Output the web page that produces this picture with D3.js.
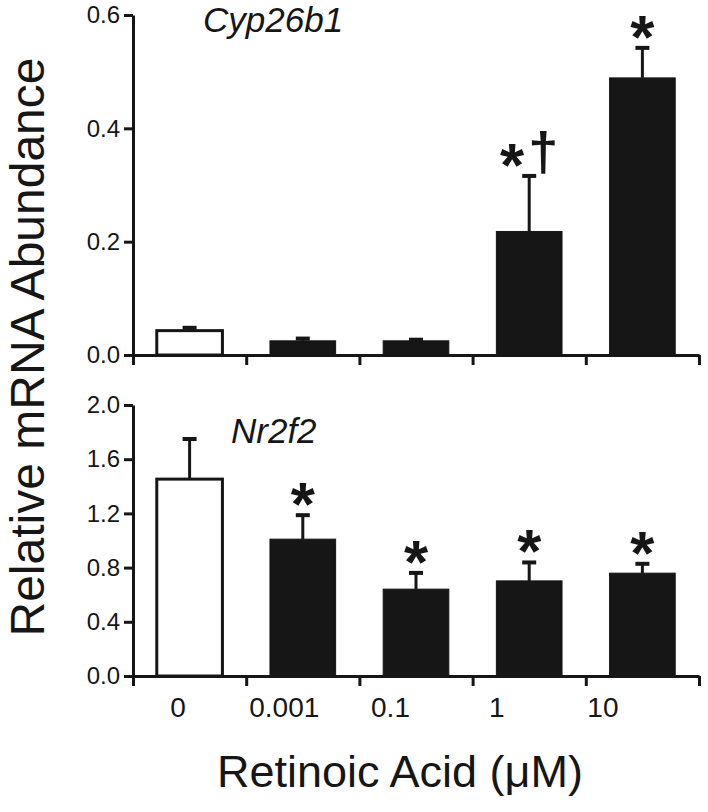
<!DOCTYPE html>
<html>
<head>
<meta charset="utf-8">
<script src="https://cdn.jsdelivr.net/npm/d3@7"></script>
<style>
  body { margin: 0; background: #fff; }
  svg { display: block; font-family: "Liberation Sans", Arial, sans-serif; }
</style>
</head>
<body>
<div id="chart"></div>
<script>
// doses of retinoic acid (uM)
const doses = ["0", "0.001", "0.1", "1", "10"];

// Cyp26b1 panel
const cypMean = [0.043, 0.025, 0.025, 0.218, 0.489];
const cypSem = [0.005, 0.004, 0.002, 0.098, 0.053];
const cypMarks = ["", "", "", "*\u2020", "*"];
const cypTicks = [0.0, 0.2, 0.4, 0.6];

// Nr2f2 panel
const nrMean = [1.453, 1.010, 0.641, 0.702, 0.759];
const nrSem = [0.296, 0.177, 0.120, 0.136, 0.069];
const nrMarks = ["", "*", "*", "*", "*"];
const nrTicks = [0.0, 0.4, 0.8, 1.2, 1.6, 2.0];

const width = 708;
const height = 812;
const ink = "#161616";

const svg = d3.select("#chart")
  .append("svg")
  .attr("width", width)
  .attr("height", height);

const left = 133;
const right = 699;

// band scale for the bars, linear scale for the boundary ticks
const x = d3.scaleBand()
  .domain(doses)
  .range([left, right])
  .paddingInner(0.42)
  .paddingOuter(0.21);

const xEdge = d3.scaleLinear()
  .domain([0, doses.length])
  .range([left, right]);

// labels sit a little left of the bar centres in the original
const xLabel = d3.scaleBand()
  .domain(doses)
  .range([125, 656]);

function drawPanel(opts) {
  const y = d3.scaleLinear()
    .domain([0, opts.max])
    .range([opts.bottom, opts.top]);

  const g = svg.append("g");

  // bars
  g.selectAll(".bar")
    .data(opts.mean)
    .enter()
    .append("rect")
    .attr("class", "bar")
    .attr("x", function(d, i) { return x(doses[i]); })
    .attr("width", x.bandwidth())
    .attr("y", function(d) { return y(d); })
    .attr("height", function(d) { return y(0) - y(d); })
    .attr("fill", function(d, i) { return i === 0 ? "#fff" : ink; })
    .attr("stroke", ink)
    .attr("stroke-width", function(d, i) { return i === 0 ? 3 : 1; });

  // upper error bars
  const err = g.selectAll(".err")
    .data(opts.mean)
    .enter()
    .append("g")
    .attr("class", "err")
    .attr("transform", function(d, i) {
      return "translate(" + (x(doses[i]) + x.bandwidth() / 2) + ",0)";
    });

  err.append("line")
    .attr("y1", function(d) { return y(d); })
    .attr("y2", function(d, i) { return y(d + opts.sem[i]); })
    .attr("stroke", ink)
    .attr("stroke-width", 3);

  err.append("line")
    .attr("x1", -7)
    .attr("x2", 7)
    .attr("y1", function(d, i) { return y(d + opts.sem[i]); })
    .attr("y2", function(d, i) { return y(d + opts.sem[i]); })
    .attr("stroke", ink)
    .attr("stroke-width", 4);

  // significance marks
  const mark = err.append("text")
    .attr("y", function(d, i) { return y(d + opts.sem[i]) + 10; })
    .attr("text-anchor", "middle")
    .attr("font-weight", "bold")
    .attr("font-size", 62)
    .attr("fill", ink);

  mark.append("tspan")
    .text(function(d, i) { return opts.marks[i].charAt(0); });
  mark.append("tspan")
    .attr("font-size", 54)
    .attr("dx", 4)
    .attr("dy", -16)
    .text(function(d, i) { return opts.marks[i].slice(1); });

  // y axis
  const yAxis = g.append("g")
    .attr("transform", "translate(" + left + ",0)")
    .call(d3.axisLeft(y)
      .tickValues(opts.ticks)
      .tickFormat(d3.format(".1f"))
      .tickSize(9)
      .tickSizeOuter(0)
      .tickPadding(4));

  // x axis with ticks between the bars
  const xAxis = g.append("g")
    .attr("transform", "translate(0," + y(0) + ")")
    .call(d3.axisBottom(xEdge)
      .tickValues(d3.range(doses.length + 1))
      .tickFormat("")
      .tickSize(10)
      .tickSizeOuter(0));

  [yAxis, xAxis].forEach(function(a) {
    a.select(".domain").attr("stroke", ink).attr("stroke-width", 3);
    a.selectAll(".tick line").attr("stroke", ink).attr("stroke-width", 3);
  });

  yAxis.selectAll(".tick text")
    .attr("font-size", 24)
    .attr("font-family", "'Liberation Sans', Arial, sans-serif")
    .attr("fill", ink);

  // gene name
  g.append("text")
    .attr("x", opts.labelX)
    .attr("y", opts.labelY)
    .attr("font-style", "italic")
    .attr("font-size", 35)
    .attr("fill", ink)
    .text(opts.gene);

  return y;
}

drawPanel({
  gene: "Cyp26b1",
  mean: cypMean,
  sem: cypSem,
  marks: cypMarks,
  ticks: cypTicks,
  max: 0.6,
  top: 15,
  bottom: 355,
  labelX: 203,
  labelY: 32
});

drawPanel({
  gene: "Nr2f2",
  mean: nrMean,
  sem: nrSem,
  marks: nrMarks,
  ticks: nrTicks,
  max: 2.0,
  top: 405,
  bottom: 676,
  labelX: 231,
  labelY: 443
});

// dose labels
svg.append("g")
  .selectAll("text")
  .data(doses)
  .enter()
  .append("text")
  .attr("x", function(d) { return xLabel(d) + xLabel.bandwidth() / 2; })
  .attr("y", 717)
  .attr("text-anchor", "middle")
  .attr("font-size", 28)
  .attr("fill", ink)
  .text(function(d) { return d; });

// axis titles
svg.append("text")
  .attr("x", 400)
  .attr("y", 787)
  .attr("text-anchor", "middle")
  .attr("font-size", 45)
  .attr("fill", ink)
  .text("Retinoic Acid (\u03BCM)");

svg.append("text")
  .attr("transform", "translate(44,347) rotate(-90)")
  .attr("text-anchor", "middle")
  .attr("font-size", 48)
  .attr("fill", ink)
  .text("Relative mRNA Abundance");
</script>
</body>
</html>
